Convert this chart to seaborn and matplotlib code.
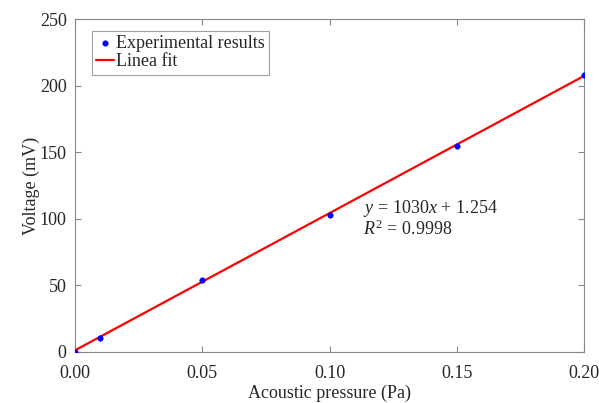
import matplotlib
matplotlib.use("Agg")
import matplotlib.pyplot as plt
import seaborn as sns
import numpy as np
import pandas as pd

pressure = [0.0, 0.01, 0.05, 0.10, 0.15, 0.20]
voltage = [0.0, 10.5, 53.8, 102.5, 155.0, 208.0]
slope = 1030.0
intercept = 1.254
xticks = [0.00, 0.05, 0.10, 0.15, 0.20]
yticks = [0, 50, 100, 150, 200, 250]

sns.set_theme(style="white")
plt.rcParams['font.family'] = ['Liberation Serif', 'DejaVu Serif']
plt.rcParams['mathtext.fontset'] = 'custom'
plt.rcParams['mathtext.rm'] = 'Liberation Serif'
plt.rcParams['mathtext.it'] = 'Liberation Serif:italic'

fig = plt.figure(figsize=(5.99, 4.03), dpi=100)
ax = fig.add_axes([75/599, 1-352/403, (584-75)/599, (352-19)/403])

df = pd.DataFrame({"x": pressure, "y": voltage})
fit_x = np.array([pressure[0], pressure[-1]])
fit_df = pd.DataFrame({"x": fit_x, "y": slope * fit_x + intercept})

sns.scatterplot(data=df, x="x", y="y", ax=ax, color="#0000ff", s=16, edgecolor="#0000ff",
                label="Experimental results", zorder=3)
sns.lineplot(data=fit_df, x="x", y="y", ax=ax, color="#ff0000", linewidth=1.6,
             label="Linea fit", zorder=2)

ax.set_xlim(0, 0.2)
ax.set_ylim(0, 250)
ax.set_xticks(xticks)
ax.set_xticklabels([f"{t:.2f}" for t in xticks])
ax.set_yticks(yticks)
ax.set_yticklabels([str(t) for t in yticks])
ax.tick_params(direction="in", length=4, width=0.8, color="#888888", labelsize=13,
               top=True, right=True, bottom=True, left=True)
ax.tick_params(axis="x", pad=9)
ax.tick_params(axis="y", pad=6)
for s in ax.spines.values():
    s.set_color("#888888")
    s.set_linewidth(0.8)
ax.set_xlabel("Acoustic pressure (Pa)", fontsize=13, labelpad=2)
ax.set_ylabel("Voltage (mV)", fontsize=13, labelpad=0)

leg = ax.legend(loc="upper left", bbox_to_anchor=(0.033, 0.965), fontsize=13,
                frameon=True, fancybox=False, handlelength=1.0, handletextpad=0.1,
                borderpad=0.25, labelspacing=0.05, borderaxespad=0)
leg.get_frame().set_edgecolor("#888888")
leg.get_frame().set_linewidth(0.8)

ax.text(0.113, 108, r"$y\,=\,1030x\,+\,1.254$", fontsize=13, va="center")
ax.text(0.113, 92, r"$R^2\,=\,0.9998$", fontsize=13, va="center")

fig.savefig("out.png", dpi=100)
